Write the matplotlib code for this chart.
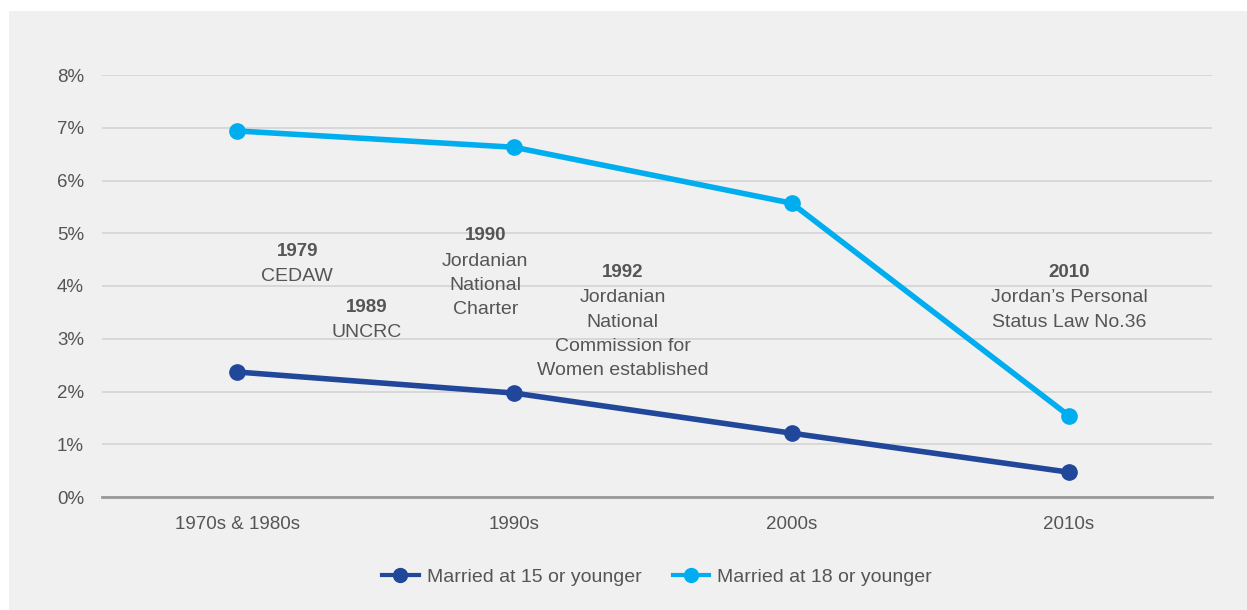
import matplotlib.pyplot as plt
from matplotlib.patches import Rectangle
from matplotlib.ticker import FuncFormatter

plt.rcParams["font.family"] = ["Liberation Sans", "DejaVu Sans"]

# Data
periods = ["1970s & 1980s", "1990s", "2000s", "2010s"]
married_15 = [2.37, 1.97, 1.21, 0.47]
married_18 = [6.94, 6.63, 5.57, 1.54]
yticks = [0, 1, 2, 3, 4, 5, 6, 7, 8]

# Milestone annotations: year, description, anchor (x in category units, y in %)
event_years = ["1979", "1989", "1990", "1992", "2010"]
event_texts = [
    "CEDAW",
    "UNCRC",
    "Jordanian\nNational\nCharter",
    "Jordanian\nNational\nCommission for\nWomen established",
    "Jordan\u2019s Personal\nStatus Law No.36",
]
event_x = [0.217, 0.466, 0.895, 1.39, 3.0]
event_y = [4.66, 3.60, 4.95, 4.25, 4.25]

dark_blue = "#21479a"
light_blue = "#00aeef"
text_grey = "#555555"
bg = "#f0f0f0"

fig = plt.figure(figsize=(12.47, 6.10), dpi=100)
fig.patch.set_facecolor("white")
# grey panel behind the chart
fig.add_artist(Rectangle((9 / 1247, 0), 1 - 9 / 1247, 1 - 11 / 610,
                         transform=fig.transFigure, facecolor=bg,
                         edgecolor="none", zorder=-10))

ax = fig.add_axes([102 / 1247, 113 / 610, (1212 - 102) / 1247, (535 - 113) / 610])
ax.set_facecolor("none")

x = list(range(len(periods)))
ax.plot(x, married_15, color=dark_blue, lw=4, marker="o", ms=11,
        label="Married at 15 or younger", zorder=3, clip_on=False)
ax.plot(x, married_18, color=light_blue, lw=4, marker="o", ms=11,
        label="Married at 18 or younger", zorder=3, clip_on=False)

ax.set_xlim(-0.487, 3.516)
ax.set_ylim(0, 8)
ax.set_yticks(yticks)
ax.yaxis.set_major_formatter(FuncFormatter(lambda v, p: f"{v:.0f}%"))
ax.set_xticks(x)
ax.set_xticklabels(periods)
ax.tick_params(axis="both", length=0, labelsize=13.5, labelcolor=text_grey)
ax.tick_params(axis="y", pad=13)
ax.tick_params(axis="x", pad=14)

ax.grid(axis="y", color="#d4d4d4", lw=1.2, zorder=1)
for s in ["top", "right", "left"]:
    ax.spines[s].set_visible(False)
ax.spines["bottom"].set_color("#9a9a9a")
ax.spines["bottom"].set_linewidth(2)

for yr, txt, ex, ey in zip(event_years, event_texts, event_x, event_y):
    ax.text(ex, ey, yr, ha="center", va="center", fontsize=13.5,
            fontweight="bold", color=text_grey, zorder=4)
    ax.annotate(txt, (ex, ey), xytext=(0, -12), textcoords="offset points",
                ha="center", va="top", fontsize=14, color=text_grey,
                linespacing=1.55, zorder=4)

leg = ax.legend(loc="upper center", bbox_to_anchor=(0.5, -0.128), ncol=2,
                frameon=False, fontsize=14, handlelength=1.9,
                columnspacing=1.6, handletextpad=0.4)
for t in leg.get_texts():
    t.set_color(text_grey)
for h in leg.legend_handles:
    h.set_linewidth(3)
    h.set_markersize(10)

fig.savefig("out.png", dpi=100, facecolor=fig.get_facecolor())
